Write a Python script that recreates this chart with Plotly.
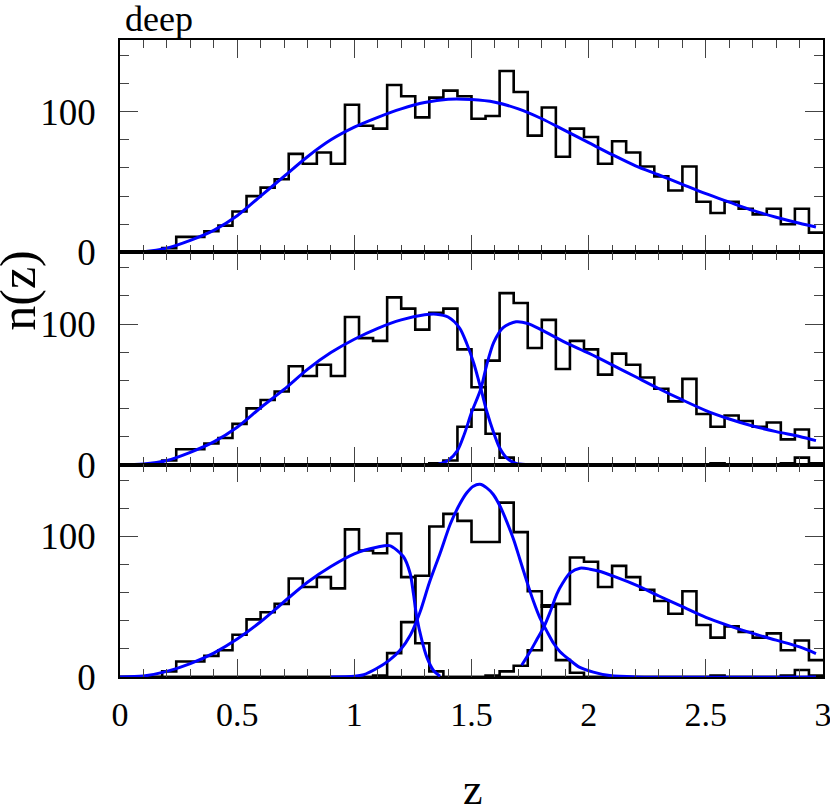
"""n(z) of the deep sample: full histogram, then split in two and three photo-z slices."""

import numpy as np
import plotly.graph_objects as go
from plotly.subplots import make_subplots

SERIF = "Liberation Serif, Times New Roman, serif"
BLUE = "#0000ff"

Z_MIN, Z_MAX = 0.0, 3.0
N_BINS = 50  # dz = 0.06

# histogram counts per bin
ALL_COUNTS = [0, 0, 0, 3, 11, 11, 15, 19, 29, 40,
              46, 52, 70, 63, 71, 63, 105, 90, 88, 119,
              111, 96, 110, 115, 111, 95, 97, 129, 114, 83,
              103, 68, 88, 82, 63, 79, 71, 61, 54, 44,
              61, 36, 28, 36, 31, 27, 31, 20, 31, 14]

SPLIT2_LOW = [0, 0, 0, 3, 11, 11, 15, 19, 29, 40,
              46, 52, 70, 63, 71, 63, 105, 90, 88, 119,
              111, 96, 108, 111, 82, 55, 22, 5, 0, 0,
              0, 0, 0, 0, 0, 0, 0, 0, 0, 0,
              0, 0, 1, 0, 0, 0, 0, 1, 5, 1]
SPLIT2_HIGH = [0, 0, 0, 0, 0, 0, 0, 0, 0, 0,
               0, 0, 0, 0, 0, 0, 0, 0, 0, 0,
               0, 0, 1, 3, 27, 39, 74, 122, 115, 83,
               103, 68, 88, 82, 64, 79, 71, 62, 54, 45,
               61, 36, 27, 35, 31, 27, 30, 18, 25, 12]

SPLIT3_LOW = [0, 0, 0, 4, 11, 11, 15, 19, 30, 41,
              46, 52, 70, 64, 71, 63, 105, 90, 88, 102,
              71, 24, 4, 0, 0, 0, 0, 0, 0, 0,
              0, 0, 0, 0, 0, 0, 0, 0, 0, 0,
              0, 0, 1, 0, 0, 0, 0, 1, 5, 1]
SPLIT3_MID = [0, 0, 0, 0, 0, 0, 0, 0, 0, 0,
              0, 0, 0, 0, 0, 0, 0, 0, 1, 17,
              39, 72, 107, 116, 111, 96, 96, 124, 103, 61,
              50, 12, 3, 0, 0, 0, 0, 0, 0, 0,
              0, 0, 0, 0, 0, 0, 0, 0, 0, 0]
SPLIT3_HIGH = [0, 0, 0, 0, 0, 0, 0, 0, 0, 0,
               0, 0, 0, 0, 0, 0, 0, 0, 0, 0,
               0, 0, 0, 0, 0, 0, 1, 4, 8, 19,
               51, 52, 85, 82, 64, 79, 71, 62, 54, 45,
               61, 37, 28, 36, 32, 28, 31, 19, 26, 12]

# fitted n(z) curves
ALL_Z = [0.0, 0.1, 0.2, 0.3, 0.4, 0.5, 0.6, 0.7, 0.8, 0.9, 1.0, 1.1, 1.2, 1.3, 1.4,
         1.5, 1.6, 1.7, 1.8, 1.9, 2.0, 2.1, 2.2, 2.3, 2.4, 2.5, 2.6, 2.7, 2.8, 2.9, 2.97]
ALL_N = [0, 0.5, 3, 8.5, 15.6, 26, 40, 54, 68, 80, 89, 96, 102, 106.5, 108.8,
         108.6, 106.7, 102, 95, 86.5, 78, 69.5, 61.5, 55, 48.3, 41.7, 35.7, 29.8, 25, 20.7, 18]

S2_LOW_Z = [0.0, 0.1, 0.2, 0.3, 0.4, 0.5, 0.6, 0.7, 0.8, 0.9, 1.0, 1.1, 1.2, 1.3, 1.35,
            1.4, 1.45, 1.48, 1.51, 1.54, 1.565, 1.595, 1.62, 1.65, 1.69, 1.74, 1.9]
S2_LOW_N = [0, 0.5, 3, 8.8, 16.2, 26.6, 40.5, 53.5, 67.8, 79.7, 89.2, 97, 103, 106.6, 107,
            105, 97, 86, 72, 54, 38, 22.6, 12, 4.8, 0.8, 0, 0]

S2_HIGH_Z = [1.36, 1.40, 1.44, 1.47, 1.50, 1.54, 1.565, 1.595, 1.635, 1.69, 1.74, 1.8,
             1.9, 2.0, 2.1, 2.2, 2.3, 2.4, 2.5, 2.6, 2.7, 2.8, 2.9, 2.97]
S2_HIGH_N = [0.5, 3, 10, 22, 37, 54, 71, 87, 97.5, 101.6, 100.4, 95.7,
             87, 79.3, 71, 62.5, 54, 46, 38.5, 32.5, 27.5, 23.5, 20, 17.1]

S3_LOW_Z = [0.0, 0.1, 0.2, 0.3, 0.4, 0.5, 0.6, 0.7, 0.8, 0.9, 1.0, 1.1, 1.15,
            1.209, 1.238, 1.252, 1.266, 1.288, 1.309, 1.337, 1.366]
S3_LOW_N = [0, 0.7, 4, 9.5, 17, 27, 39.3, 53.5, 67.4, 78.6, 87.6, 92.4, 93.4,
            85.7, 73.8, 59.5, 43, 26.2, 14.3, 4.8, 0.5]

S3_MID_Z = [0.9, 1.0, 1.04, 1.095, 1.15, 1.195, 1.24, 1.28, 1.32, 1.366, 1.41, 1.45,
            1.48, 1.508, 1.536, 1.565, 1.593, 1.622, 1.65, 1.68, 1.707, 1.736, 1.764,
            1.792, 1.82, 1.85, 1.878, 1.92, 1.96, 2.02, 2.09, 2.2, 2.97]
S3_MID_N = [0, 0.5, 1.6, 6, 12, 19, 30, 46, 67, 88, 109, 123,
            131, 135.7, 137, 134.5, 129.8, 121.4, 110.7, 97.6, 83.4, 68, 54,
            42, 33, 24, 18, 12, 7, 3.5, 1, 0, 0]

S3_HIGH_Z = [1.714, 1.75, 1.78, 1.81, 1.835, 1.864, 1.89, 1.921, 1.963, 2.006, 2.05,
             2.1, 2.2, 2.3, 2.4, 2.5, 2.6, 2.7, 2.8, 2.9, 2.97]
S3_HIGH_N = [8.4, 18, 27, 36, 46, 59, 67, 74, 77.4, 76.7, 75,
             72, 65.5, 57.6, 50, 42.4, 36.4, 31, 26.2, 21.4, 16.7]

PANELS = [
    ([ALL_COUNTS], [(ALL_Z, ALL_N)]),
    ([SPLIT2_LOW, SPLIT2_HIGH], [(S2_LOW_Z, S2_LOW_N), (S2_HIGH_Z, S2_HIGH_N)]),
    ([SPLIT3_LOW, SPLIT3_MID, SPLIT3_HIGH],
     [(S3_LOW_Z, S3_LOW_N), (S3_MID_Z, S3_MID_N), (S3_HIGH_Z, S3_HIGH_N)]),
]

edges = np.linspace(Z_MIN, Z_MAX, N_BINS + 1)

fig = make_subplots(rows=3, cols=1, shared_xaxes=True, vertical_spacing=0)

for row, (hists, curves) in enumerate(PANELS, start=1):
    for counts in hists:
        fig.add_trace(
            go.Scatter(
                x=edges,
                y=list(counts) + [counts[-1]],
                mode="lines",
                line=dict(color="black", width=2.6, shape="hv"),
                hoverinfo="skip",
            ),
            row=row,
            col=1,
        )
    for z, n in curves:
        fig.add_trace(
            go.Scatter(
                x=z,
                y=n,
                mode="lines",
                line=dict(color=BLUE, width=3, shape="spline", smoothing=0.8),
            ),
            row=row,
            col=1,
        )

fig.update_xaxes(
    range=[Z_MIN, Z_MAX],
    automargin=False,
    showline=True,
    linecolor="black",
    linewidth=1.5,
    mirror="allticks",
    ticks="inside",
    ticklen=18,
    tickwidth=1,
    tickcolor="#444",
    tick0=0,
    dtick=0.5,
    minor=dict(ticks="inside", dtick=0.1, ticklen=8, tickwidth=1, tickcolor="#444"),
    showgrid=False,
    zeroline=False,
    tickfont=dict(family=SERIF, size=34, color="black"),
    ticklabelstandoff=6,
    ticklabeloverflow="allow",
)
fig.update_yaxes(
    range=[0, 151],
    automargin=False,
    showline=True,
    linecolor="black",
    linewidth=1.5,
    mirror="allticks",
    ticks="inside",
    ticklen=18,
    tickwidth=1,
    tickcolor="#444",
    tickvals=[0, 100],
    minor=dict(ticks="inside", tick0=0, dtick=20, ticklen=9, tickwidth=1, tickcolor="#444"),
    showgrid=False,
    zeroline=False,
    tickfont=dict(family=SERIF, size=37, color="black"),
    ticklabelstandoff=15,
)

fig.add_annotation(text="deep", xref="paper", yref="paper", x=0.004, y=1.033,
                   xanchor="left", yanchor="middle", showarrow=False,
                   font=dict(family=SERIF, size=36, color="black"))
fig.add_annotation(text="n(z)", xref="paper", yref="paper", x=-0.1445, y=0.607,
                   xanchor="center", yanchor="middle", textangle=-90, showarrow=False,
                   font=dict(family=SERIF, size=50, color="black"))
fig.add_annotation(text="z", xref="paper", yref="paper", x=0.502, y=-0.176,
                   xanchor="center", yanchor="middle", showarrow=False,
                   font=dict(family=SERIF, size=44, color="black"))

fig.update_layout(
    width=830,
    height=805,
    margin=dict(l=120, r=7, t=40, b=128),
    plot_bgcolor="white",
    paper_bgcolor="white",
    showlegend=False,
)

# drop the default 8px page margin so the figure sits flush in the window
fig.write_html(
    "out.html",
    config={"displayModeBar": False},
    post_script="document.body.style.margin = '0';",
)
